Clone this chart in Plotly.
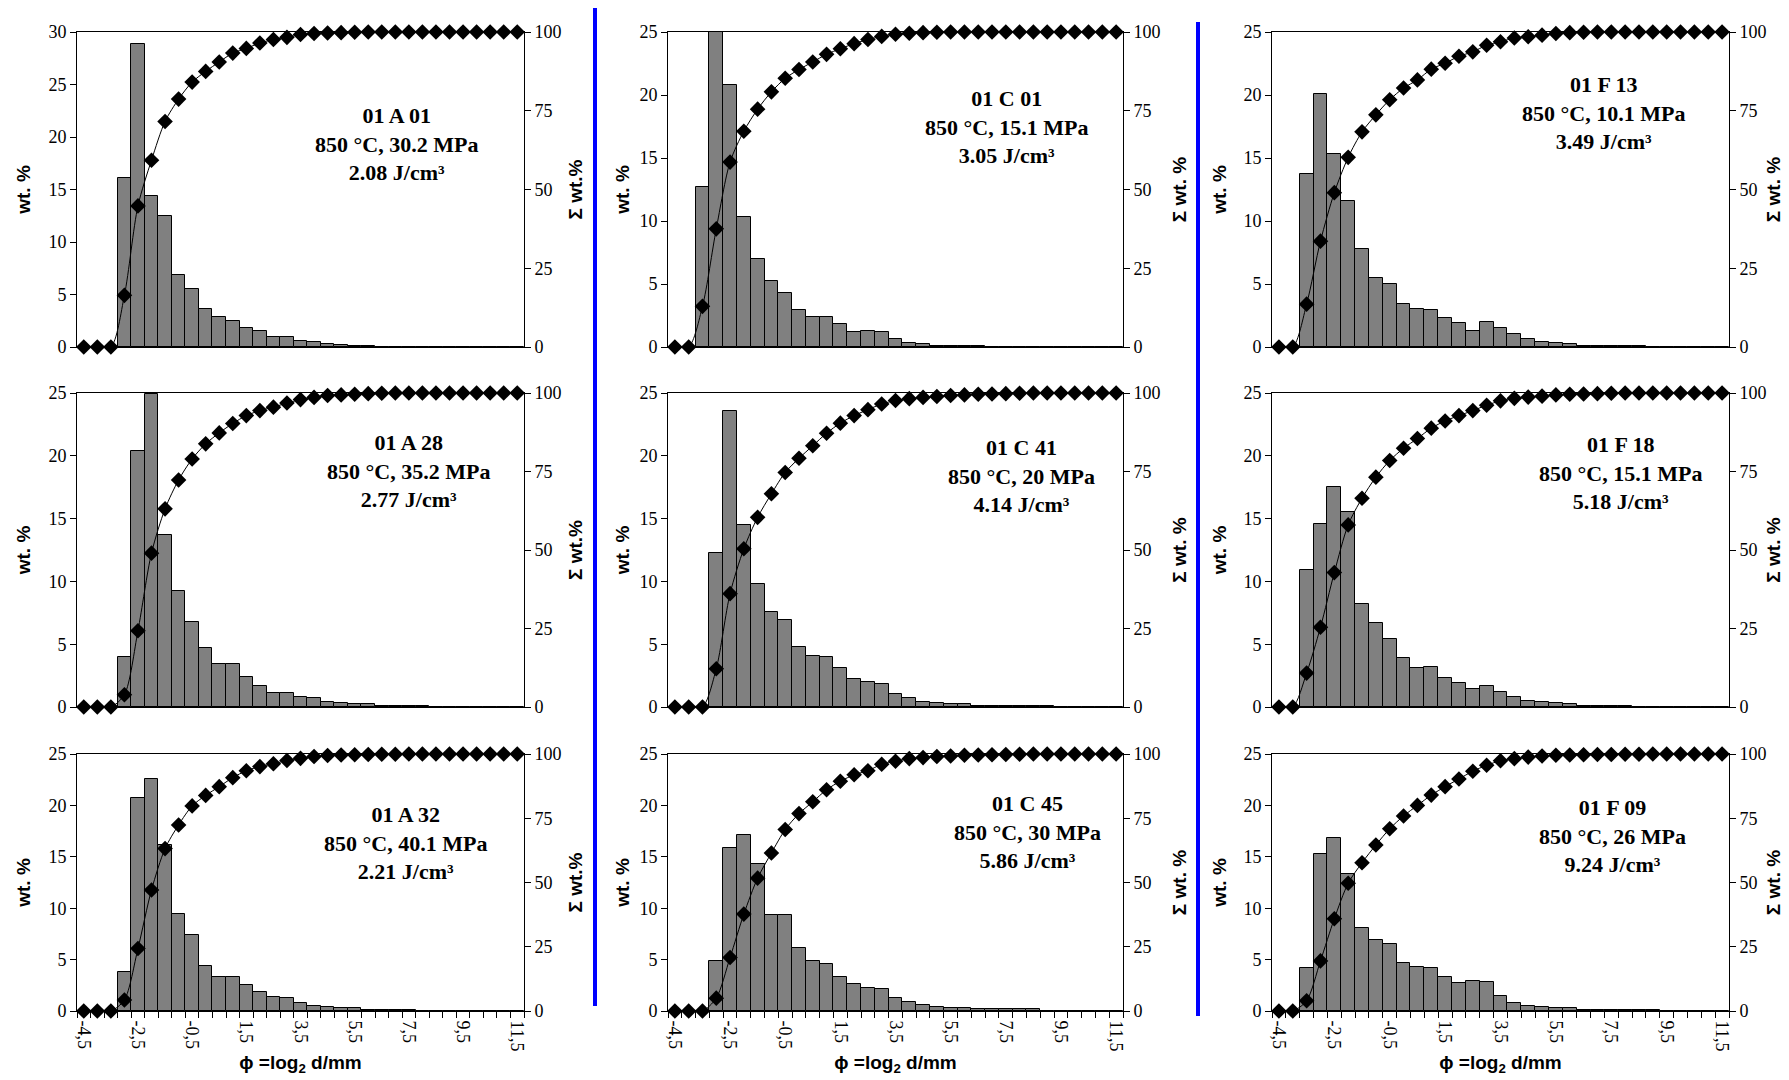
import plotly.graph_objects as go

# ---------------- data ----------------
PHI = [-4.5, -4.0, -3.5, -3.0, -2.5, -2.0, -1.5, -1.0, -0.5, 0.0, 0.5, 1.0, 1.5, 2.0,
       2.5, 3.0, 3.5, 4.0, 4.5, 5.0, 5.5, 6.0, 6.5, 7.0, 7.5, 8.0, 8.5, 9.0, 9.5,
       10.0, 10.5, 11.0, 11.5]
X_TICK_VALUES = [-4.5, -2.5, -0.5, 1.5, 3.5, 5.5, 7.5, 9.5, 11.5]
X_TICK_LABELS = ["-4,5", "-2,5", "-0,5", "1,5", "3,5", "5,5", "7,5", "9,5", "11,5"]

SAMPLES = ["01 A 01", "01 C 01", "01 F 13",
           "01 A 28", "01 C 41", "01 F 18",
           "01 A 32", "01 C 45", "01 F 09"]
CONDITIONS = ["850 °C, 30.2 MPa", "850 °C, 15.1 MPa", "850 °C, 10.1 MPa",
              "850 °C, 35.2 MPa", "850 °C, 20 MPa", "850 °C, 15.1 MPa",
              "850 °C, 40.1 MPa", "850 °C, 30 MPa", "850 °C, 26 MPa"]
ENERGY = ["2.08 J/cm³", "3.05 J/cm³", "3.49 J/cm³",
          "2.77 J/cm³", "4.14 J/cm³", "5.18 J/cm³",
          "2.21 J/cm³", "5.86 J/cm³", "9.24 J/cm³"]
CUM_TITLES = ["Σ wt.%", "Σ wt. %", "Σ wt. %",
              "Σ wt.%", "Σ wt. %", "Σ wt. %",
              "Σ wt.%", "Σ wt. %", "Σ wt. %"]
WT_MAX = [30, 25, 25, 25, 25, 25, 25, 25, 25]

wt_A01 = [0, 0, 0, 16.1, 28.9, 14.4, 12.5, 6.9, 5.5, 3.6, 2.9, 2.5, 1.8, 1.5, 1.0, 1.0, 0.6,
          0.5, 0.25, 0.22, 0.1, 0.1, 0, 0, 0, 0, 0, 0, 0, 0, 0, 0, 0]
cum_A01 = [0, 0, 0, 16.4, 44.8, 59.3, 71.6, 78.7, 84.1, 87.5, 90.5, 93.3, 94.8, 96.5, 97.6,
           98.3, 99.2, 99.5, 99.7, 99.8, 99.9, 100, 100, 100, 100, 100, 100, 100, 100, 100,
           100, 100, 100]

wt_C01 = [0, 0, 12.7, 25.2, 20.8, 10.3, 7.0, 5.2, 4.3, 2.9, 2.4, 2.4, 1.8, 1.2, 1.3, 1.2, 0.6,
          0.3, 0.2, 0.1, 0.08, 0.08, 0.07, 0, 0, 0, 0, 0, 0, 0, 0, 0, 0]
cum_C01 = [0, 0, 12.9, 37.5, 58.7, 68.5, 75.5, 81.0, 85.3, 88.1, 90.5, 92.9, 94.7, 96.3,
           97.6, 98.6, 99.3, 99.6, 99.8, 99.9, 100, 100, 100, 100, 100, 100, 100, 100, 100,
           100, 100, 100, 100]

wt_F13 = [0, 0, 13.7, 20.1, 15.3, 11.6, 7.8, 5.5, 5.0, 3.4, 3.0, 2.9, 2.3, 1.9, 1.3, 2.0, 1.5,
          1.0, 0.6, 0.4, 0.3, 0.2, 0.1, 0.1, 0.08, 0.08, 0.08, 0, 0, 0, 0, 0, 0]
cum_F13 = [0, 0, 13.6, 33.6, 49.0, 60.2, 68.3, 73.7, 78.5, 82.2, 84.8, 88.2, 90.1, 92.3,
           93.7, 95.8, 96.9, 98.1, 98.5, 99.0, 99.5, 99.8, 99.9, 100, 100, 100, 100, 100,
           100, 100, 100, 100, 100]

wt_A28 = [0, 0, 0, 4.0, 20.4, 24.9, 13.7, 9.2, 6.8, 4.7, 3.4, 3.4, 2.4, 1.7, 1.1, 1.1, 0.8,
          0.7, 0.4, 0.3, 0.2, 0.2, 0.1, 0.08, 0.08, 0.08, 0, 0, 0, 0, 0, 0, 0]
cum_A28 = [0, 0, 0, 3.9, 24.3, 49.0, 63.1, 72.3, 79.0, 83.8, 87.3, 90.3, 92.8, 94.4, 95.5,
           96.8, 97.9, 98.6, 99.2, 99.4, 99.6, 99.8, 99.9, 100, 100, 100, 100, 100, 100,
           100, 100, 100, 100]

wt_C41 = [0, 0, 0, 12.3, 23.6, 14.5, 9.8, 7.6, 6.9, 4.8, 4.1, 4.0, 3.1, 2.2, 2.0, 1.8, 1.0,
          0.7, 0.4, 0.3, 0.2, 0.2, 0.08, 0.08, 0.08, 0.08, 0.08, 0.08, 0, 0, 0, 0, 0]
cum_C41 = [0, 0, 0, 12.2, 36.1, 50.4, 60.4, 67.9, 74.7, 79.2, 83.2, 87.2, 90.4, 92.8, 94.7,
           96.5, 97.6, 98.2, 98.6, 98.9, 99.2, 99.4, 99.6, 99.7, 99.8, 99.9, 100, 100, 100,
           100, 100, 100, 100]

wt_F18 = [0, 0, 10.9, 14.6, 17.5, 15.5, 8.2, 6.7, 5.4, 3.9, 3.1, 3.2, 2.3, 1.9, 1.4, 1.7, 1.2,
          0.8, 0.5, 0.4, 0.3, 0.2, 0.1, 0.08, 0.08, 0.08, 0, 0, 0, 0, 0, 0, 0]
cum_F18 = [0, 0, 10.8, 25.4, 42.8, 58.0, 66.5, 73.2, 78.5, 82.4, 85.5, 88.8, 91.1, 92.8,
           94.4, 96.1, 97.5, 98.3, 98.7, 99.0, 99.4, 99.6, 99.7, 99.8, 99.9, 100, 100, 100,
           100, 100, 100, 100, 100]

wt_A32 = [0, 0, 0, 3.8, 20.7, 22.6, 16.1, 9.4, 7.4, 4.4, 3.3, 3.3, 2.5, 1.85, 1.4, 1.25, 0.75,
          0.5, 0.4, 0.3, 0.3, 0.13, 0.13, 0.13, 0.13, 0, 0, 0, 0, 0, 0, 0, 0]
cum_A32 = [0, 0, 0, 4.3, 24.3, 47.1, 63.2, 72.4, 79.8, 83.9, 87.3, 90.8, 93.5, 95.1, 96.2,
           97.5, 98.3, 99.0, 99.4, 99.6, 99.7, 99.8, 99.9, 99.9, 100, 100, 100, 100, 100,
           100, 100, 100, 100]

wt_C45 = [0, 0, 0, 4.9, 15.9, 17.1, 14.3, 9.3, 9.3, 6.1, 4.9, 4.6, 3.3, 2.6, 2.2, 2.1, 1.3,
          0.9, 0.55, 0.4, 0.3, 0.3, 0.16, 0.16, 0.16, 0.16, 0.16, 0, 0, 0, 0, 0, 0]
cum_C45 = [0, 0, 0, 5.0, 20.8, 37.7, 51.7, 61.5, 70.6, 76.8, 81.4, 86.1, 89.4, 91.9, 93.5,
           96.0, 97.2, 98.2, 98.6, 99.0, 99.2, 99.5, 99.6, 99.7, 99.8, 99.9, 100, 100, 100,
           100, 100, 100, 100]

wt_F09 = [0, 0, 4.15, 15.3, 16.8, 13.3, 8.1, 6.9, 6.55, 4.7, 4.3, 4.15, 3.3, 2.7, 2.95, 2.8,
          1.5, 0.75, 0.5, 0.4, 0.3, 0.3, 0.13, 0.13, 0.13, 0.13, 0.13, 0.13, 0, 0, 0, 0, 0]
cum_F09 = [0, 0, 4.0, 19.5, 35.9, 49.7, 57.7, 64.6, 70.9, 75.9, 80.0, 84.0, 87.3, 90.3, 93.3,
           95.6, 97.4, 98.2, 98.8, 99.2, 99.5, 99.6, 99.7, 99.8, 99.8, 99.9, 99.9, 100, 100,
           100, 100, 100, 100]

WT = [wt_A01, wt_C01, wt_F13, wt_A28, wt_C41, wt_F18, wt_A32, wt_C45, wt_F09]
CUM = [cum_A01, cum_C01, cum_F13, cum_A28, cum_C41, cum_F18, cum_A32, cum_C45, cum_F09]

# ---------------- layout constants (pixels) ----------------
W, H = 1789, 1080
COLS_PX = [(77, 524), (668, 1123), (1272, 1729)]
ROWS_PX = [(32, 347), (393, 707), (754, 1011)]
LABEL_PX = [(396, 144), (1006, 127), (1603, 113),
            (408, 471), (1021, 476), (1620, 473),
            (405, 843), (1027, 832), (1612, 836)]
LEFT_STANDOFF = [12, 4, 11]
RIGHT_STANDOFF = [8, 13, 1]

SERIF = "Liberation Serif"
SANS = "Liberation Sans"
TICK_SIZE = 18
TITLE_SIZE = 19


def ax(prefix, n):
    return prefix if n == 1 else f"{prefix}{n}"


fig = go.Figure()
layout = {}
annotations = []

for i in range(9):
    r, c = divmod(i, 3)
    xn = i + 1
    yp = 2 * i + 1
    ys = 2 * i + 2
    xname, ypname, ysname = ax("x", xn), ax("y", yp), ax("y", ys)

    fig.add_trace(go.Bar(
        x=PHI, y=WT[i], width=0.5, xaxis=xname, yaxis=ypname,
        marker=dict(color="#808080", line=dict(color="black", width=1)),
        showlegend=False))
    fig.add_trace(go.Scatter(
        x=PHI, y=CUM[i], xaxis=xname, yaxis=ysname, mode="lines+markers",
        line=dict(color="black", width=1, shape="spline", smoothing=0.8),
        marker=dict(symbol="diamond", size=12, color="black"),
        cliponaxis=False, showlegend=False))

    x0, x1 = COLS_PX[c]
    y0, y1 = ROWS_PX[r]
    xdom = [x0 / W, x1 / W]
    ydom = [1 - y1 / H, 1 - y0 / H]
    bottom = (r == 2)

    xa = dict(domain=xdom, anchor=ypname, range=[-4.75, 11.75],
              showline=True, linecolor="black", linewidth=1, mirror=True,
              showgrid=False, zeroline=False, automargin=False,
              tickmode="array", tickvals=X_TICK_VALUES, ticktext=X_TICK_LABELS,
              showticklabels=bottom, ticks="", tickangle=90,
              tickfont=dict(family=SERIF, size=TICK_SIZE, color="black"))
    if bottom:
        xa["ticklabelstandoff"] = 5
        xa["minor"] = dict(ticks="outside", ticklen=6, tickcolor="black",
                           tick0=-4.75, dtick=0.5, showgrid=False)
        xa["title"] = dict(text="ϕ =log<sub>2</sub> d/mm", standoff=5,
                           font=dict(family=SANS, size=TITLE_SIZE, color="black",
                                     weight="bold"))
    layout[ax("xaxis", xn)] = xa

    layout[ax("yaxis", yp)] = dict(
        domain=ydom, anchor=xname, range=[0, WT_MAX[i]], dtick=5, tick0=0,
        showline=True, linecolor="black", linewidth=1, mirror=True,
        ticks="outside", ticklen=6, tickcolor="black", showgrid=False,
        zeroline=False, automargin=False,
        tickfont=dict(family=SERIF, size=TICK_SIZE, color="black"),
        title=dict(text="wt. %", standoff=LEFT_STANDOFF[c],
                   font=dict(family=SANS, size=TITLE_SIZE, color="black", weight="bold")))
    layout[ax("yaxis", ys)] = dict(
        overlaying=ypname, anchor=xname, side="right", range=[0, 100], dtick=25,
        tick0=0, showline=True, linecolor="black", linewidth=1,
        ticks="outside", ticklen=6, tickcolor="black", showgrid=False,
        zeroline=False, automargin=False,
        tickfont=dict(family=SERIF, size=TICK_SIZE, color="black"),
        title=dict(text=CUM_TITLES[i], standoff=RIGHT_STANDOFF[c],
                   font=dict(family=SANS, size=TITLE_SIZE, color="black", weight="bold")))

    lx, ly = LABEL_PX[i]
    annotations.append(dict(
        x=lx / W, y=1 - ly / H, xref="paper", yref="paper",
        xanchor="center", yanchor="middle", showarrow=False, align="center",
        text=f"<b>{SAMPLES[i]}<br>{CONDITIONS[i]}<br>{ENERGY[i]}</b>",
        font=dict(family=SERIF, size=22, color="black")))

shapes = [
    dict(type="line", xref="paper", yref="paper", x0=595 / W, x1=595 / W,
         y0=1 - 8 / H, y1=1 - 1006 / H, line=dict(color="#0000FF", width=4)),
    dict(type="line", xref="paper", yref="paper", x0=1198 / W, x1=1198 / W,
         y0=1 - 22 / H, y1=1 - 1016 / H, line=dict(color="#0000FF", width=4)),
]

fig.update_layout(
    width=W, height=H, template="none",
    margin=dict(l=0, r=0, t=0, b=0, pad=0),
    paper_bgcolor="white", plot_bgcolor="white",
    bargap=0, showlegend=False,
    annotations=annotations, shapes=shapes,
    **layout)

fig.write_html("out.html")
